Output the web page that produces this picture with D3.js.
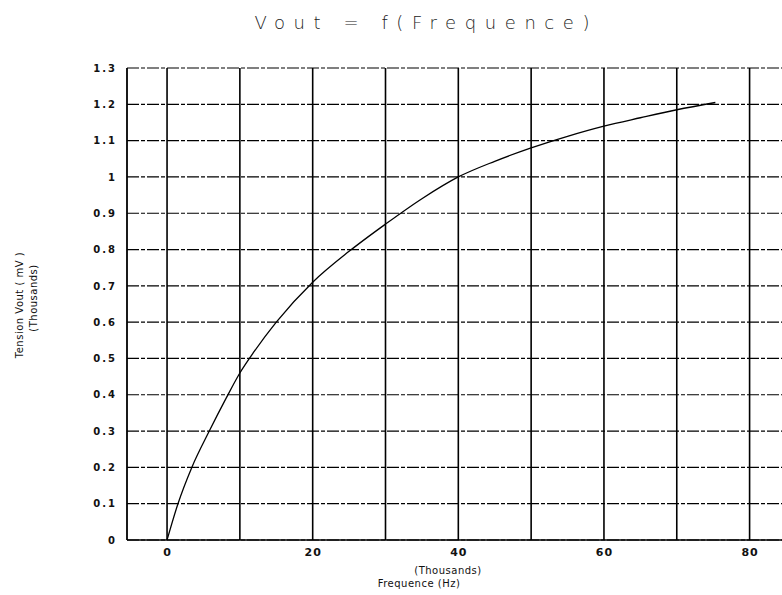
<!DOCTYPE html>
<html>
<head>
<meta charset="utf-8">
<script src="https://cdn.jsdelivr.net/npm/d3@7"></script>
<style>
  html, body { margin: 0; padding: 0; background: #fff; }
  svg { display: block; }
</style>
</head>
<body>
<svg id="chart" width="782" height="595"></svg>
<script>
// Data (frequency in thousands of Hz, Vout in thousands of mV)
const freq = [0, 1.5, 3.4, 5.8, 8.1, 10, 12, 15, 20, 25, 30, 35, 40, 45, 50, 55, 60, 65, 70, 75.3];
const vout = [0, 0.10, 0.20, 0.30, 0.39, 0.46, 0.52, 0.60, 0.71, 0.795, 0.87, 0.94, 1.00, 1.043, 1.08, 1.112, 1.14, 1.163, 1.185, 1.205];
const xTicks = [0, 20, 40, 60, 80];
const xGrid = [0, 10, 20, 30, 40, 50, 60, 70, 80];
const yTicks = [0, 0.1, 0.2, 0.3, 0.4, 0.5, 0.6, 0.7, 0.8, 0.9, 1, 1.1, 1.2, 1.3];
const yTickLabels = ["0", "0.1", "0.2", "0.3", "0.4", "0.5", "0.6", "0.7", "0.8", "0.9", "1", "1.1", "1.2", "1.3"];

const svg = d3.select("#chart");
const x = d3.scaleLinear().domain([-5.5, 85]).range([127, 786]);
const y = d3.scaleLinear().domain([0, 1.3]).range([540, 68]);

// horizontal dashed grid lines
svg.append("g").selectAll("line").data(yTicks).join("line")
  .attr("x1", x(-5.5)).attr("x2", 782)
  .attr("y1", d => y(d)).attr("y2", d => y(d))
  .attr("stroke", "#000").attr("stroke-width", 1.2)
  .attr("stroke-dasharray", "12,2,4,2");

// vertical solid grid lines
svg.append("g").selectAll("line").data(xGrid).join("line")
  .attr("x1", d => x(d)).attr("x2", d => x(d))
  .attr("y1", y(1.3)).attr("y2", y(0))
  .attr("stroke", "#000").attr("stroke-width", 1.6);

// left frame
svg.append("line")
  .attr("x1", x(-5.5)).attr("x2", x(-5.5))
  .attr("y1", y(1.3)).attr("y2", y(0))
  .attr("stroke", "#000").attr("stroke-width", 1.8);
// bottom frame
svg.append("line")
  .attr("x1", x(-5.5)).attr("x2", 782)
  .attr("y1", y(0)).attr("y2", y(0))
  .attr("stroke", "#000").attr("stroke-width", 1.6);

// y tick labels
const yAxis = d3.axisLeft(y).tickValues(yTicks)
  .tickFormat((d, i) => yTickLabels[i]).tickSize(0).tickPadding(10);
const gy = svg.append("g").attr("transform", `translate(${x(-5.5)},0)`).call(yAxis);
gy.select(".domain").remove();
gy.selectAll("text").attr("font-family", "DejaVu Sans").attr("font-size", 10)
  .attr("font-weight", "bold").attr("letter-spacing", 2).attr("fill", "#111");

// x tick labels
const xAxis = d3.axisBottom(x).tickValues(xTicks).tickFormat(d3.format("d"))
  .tickSize(0).tickPadding(8);
const gx = svg.append("g").attr("transform", `translate(0,${y(0)})`).call(xAxis);
gx.select(".domain").remove();
gx.selectAll("text").attr("font-family", "DejaVu Sans").attr("font-size", 11)
  .attr("font-weight", "bold").attr("letter-spacing", 1).attr("fill", "#111");

// curve
const line = d3.line().x((d, i) => x(freq[i])).y((d, i) => y(vout[i])).curve(d3.curveMonotoneX);
svg.append("path").datum(vout).attr("d", line)
  .attr("fill", "none").attr("stroke", "#000").attr("stroke-width", 1.3);

// title
svg.append("text").attr("x", 422).attr("y", 29).attr("text-anchor", "middle")
  .attr("font-family", "DejaVu Sans").attr("font-size", 18).attr("font-weight", 300)
  .attr("fill", "#222").attr("textLength", 335).attr("lengthAdjust", "spacing")
  .text("Vout  =  f(Frequence)");

// x axis labels
svg.append("text").attr("x", 448).attr("y", 574).attr("text-anchor", "middle")
  .attr("font-family", "DejaVu Sans").attr("font-size", 10).attr("fill", "#111")
  .attr("letter-spacing", 0.5)
  .text("(Thousands)");
svg.append("text").attr("x", 419).attr("y", 587).attr("text-anchor", "middle")
  .attr("font-family", "DejaVu Sans").attr("font-size", 10).attr("fill", "#111")
  .attr("letter-spacing", 0.5)
  .text("Frequence (Hz)");

// y axis labels
svg.append("text").attr("transform", "translate(23,305) rotate(-90)").attr("text-anchor", "middle")
  .attr("font-family", "DejaVu Sans").attr("font-size", 10).attr("fill", "#111")
  .attr("letter-spacing", 0.5)
  .text("Tension Vout ( mV )");
svg.append("text").attr("transform", "translate(37,298) rotate(-90)").attr("text-anchor", "middle")
  .attr("font-family", "DejaVu Sans").attr("font-size", 10).attr("fill", "#111")
  .attr("letter-spacing", 0.5)
  .text("(Thousands)");
</script>
</body>
</html>
